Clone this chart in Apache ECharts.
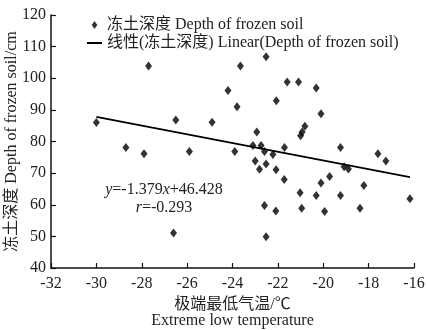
<!DOCTYPE html>
<html>
<head>
<meta charset="utf-8">
<script src="https://cdn.jsdelivr.net/npm/echarts@6/dist/echarts.min.js"></script>
<style>
  html, body { margin: 0; padding: 0; background: #fff; }
  #chart { width: 427px; height: 330px; }
</style>
</head>
<body>
<div id="chart"></div>
<script>
// 极端最低气温 (x) 与 冻土深度 (y)
const tempX = [
  -30.0, -28.7, -27.9, -27.7, -26.5, -26.6, -25.9, -24.9, -24.2, -23.9,
  -23.8, -23.65, -23.1, -22.93, -23.0, -22.81, -22.74, -22.59, -22.52, -22.52,
  -22.22, -22.07, -22.08, -21.71, -21.59, -21.09, -21.0, -20.93, -20.81, -20.31,
  -20.1, -19.24, -19.08, -18.89, -17.59, -17.24, -16.18, -21.72, -21.02, -20.95,
  -20.31, -20.1, -19.94, -19.72, -19.24, -18.38, -18.21, -22.59, -22.09, -22.52
]
const depthY = [
  86.0, 78.1, 76.1, 103.9, 86.8, 51.1, 76.8, 86.1, 96.1, 76.8,
  91.0, 103.9, 78.7, 83.0, 73.8, 71.2, 78.7, 76.8, 106.8, 72.9,
  75.9, 92.9, 71.1, 78.1, 98.8, 98.8, 81.8, 83.0, 84.8, 96.9,
  88.8, 78.1, 72.0, 71.3, 76.1, 73.8, 61.9, 68.0, 63.8, 58.9,
  62.9, 66.9, 57.9, 68.9, 62.9, 58.9, 66.1, 59.8, 58.0, 49.9
]
const xTicks = [-32, -16, 2]   // min, max, interval
const yTicks = [40, 120, 10]
const slope = -1.379
const intercept = 46.428
const rValue = -0.293
const trendX = [-30.0, -16.18]

const serif = "'Liberation Serif', 'Noto Sans CJK SC', serif"
const txt = '#222'
const fs = 16

let chart = echarts.init(document.getElementById('chart'))
const scatterData = tempX.map((x, i) => [x, depthY[i]])
const trendData = trendX.map(x => [x, slope * x + intercept])

const option = {
  animation: false,
  textStyle: { fontFamily: serif, color: txt },
  grid: { left: 51, top: 15, width: 363, height: 253, outerBoundsMode: 'none', containLabel: false },
  legend: {
    orient: 'vertical',
    left: 82,
    top: 11,
    itemGap: 0,
    itemWidth: 15,
    itemHeight: 8,
    textStyle: { fontFamily: serif, fontSize: fs, color: txt, lineHeight: 18 },
    data: [
      { name: '冻土深度 Depth of frozen soil', icon: 'path://M0,-7L5,0L0,7L-5,0Z' },
      { name: '线性(冻土深度) Linear(Depth of frozen soil)', icon: 'path://M0,0H15V2H0Z' }
    ]
  },
  xAxis: {
    type: 'value',
    min: xTicks[0], max: xTicks[1], interval: xTicks[2],
    name: '极端最低气温/℃\nExtreme low temperature',
    nameLocation: 'middle',
    nameGap: 27,
    nameTextStyle: { fontFamily: serif, fontSize: fs, color: txt, lineHeight: 16 },
    axisLine: { lineStyle: { color: '#111', width: 1.5 } },
    axisTick: { inside: true, length: 5, lineStyle: { color: '#111', width: 1.2 } },
    axisLabel: { fontFamily: serif, fontSize: fs, color: txt, margin: 8 },
    splitLine: { show: false }
  },
  yAxis: {
    type: 'value',
    min: yTicks[0], max: yTicks[1], interval: yTicks[2],
    name: '冻土深度 Depth of frozen soil/cm',
    nameLocation: 'middle',
    nameGap: 31,
    nameMoveOverlap: false,
    nameTextStyle: { fontFamily: serif, fontSize: fs, color: txt },
    axisLine: { show: true, lineStyle: { color: '#111', width: 1.5 } },
    axisTick: { show: true, inside: true, length: 5, lineStyle: { color: '#111', width: 1.2 } },
    axisLabel: { fontFamily: serif, fontSize: fs, color: txt, margin: 5 },
    splitLine: { show: false }
  },
  graphic: [{
    type: 'text',
    x: 164,
    y: 181,
    style: {
      text: '{i|y}=' + slope + '{i|x}+' + intercept + '\n{i|r}=' + rValue,
      fill: txt,
      font: fs + 'px ' + serif,
      align: 'center',
      verticalAlign: 'top',
      lineHeight: 18,
      rich: { i: { fontStyle: 'italic', fontFamily: serif, fontSize: fs, fill: txt, lineHeight: 18 } }
    }
  }],
  series: [
    {
      name: '冻土深度 Depth of frozen soil',
      type: 'scatter',
      data: scatterData,
      symbol: 'path://M0,-7L5,0L0,7L-5,0Z',
      symbolSize: [7, 9],
      itemStyle: { color: '#000' }
    },
    {
      name: '线性(冻土深度) Linear(Depth of frozen soil)',
      type: 'line',
      data: trendData,
      symbol: 'none',
      lineStyle: { color: '#000', width: 1.8 },
      itemStyle: { color: '#000' }
    }
  ]
}
chart.setOption(option)
</script>
</body>
</html>
